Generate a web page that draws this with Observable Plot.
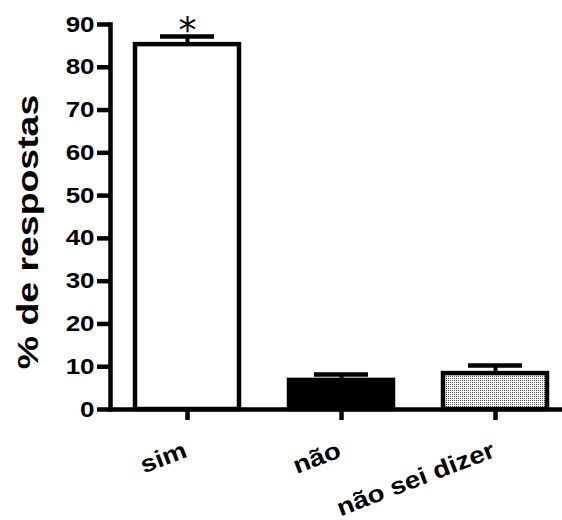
<!DOCTYPE html>
<html>
<head>
<meta charset="utf-8">
<script src="https://cdn.jsdelivr.net/npm/d3@7"></script>
<script src="https://cdn.jsdelivr.net/npm/@observablehq/plot@0.6"></script>
<style>
  html, body { margin: 0; padding: 0; background: white; }
</style>
</head>
<body>
<div id="chart"></div>
<script>
const categories = ["sim", "não", "não sei dizer"];
const values = [85.3, 6.8, 8.4];
const errors = [1.9, 1.4, 1.9];
const significance = ["*", "", ""];
const yTicks = [0, 10, 20, 30, 40, 50, 60, 70, 80, 90];
const yLabel = "% de respostas";

const table = categories.map((c, i) => ({cat: c, value: values[i], err: errors[i], sig: significance[i]}));
const fillFor = {"sim": "white", "não": "black", "não sei dizer": "url(#dots)"};

const chart = Plot.plot({
  width: 562,
  height: 520,
  marginLeft: 110,
  marginRight: 0,
  marginTop: 24,
  marginBottom: 111,
  style: {fontFamily: "'Liberation Sans', Arial, sans-serif", fontWeight: "bold", background: "white", overflow: "visible", color: "black"},
  x: {domain: categories, range: [110, 572], paddingInner: 0.325, paddingOuter: 0.1625, axis: null},
  y: {domain: [0, 90], axis: null},
  color: {type: "identity"},
  marks: [
    Plot.barY(table, {x: "cat", y: "value", fill: d => fillFor[d.cat], stroke: "black", strokeWidth: 4.5}),
    Plot.ruleX(table, {x: "cat", y1: "value", y2: d => d.value + d.err, stroke: "black", strokeWidth: 4}),
    Plot.tickY(table, {x: "cat", y: d => d.value + d.err, stroke: "black", strokeWidth: 4.5, insetLeft: 25, insetRight: 25}),
    Plot.text(table.filter(d => d.sig), {x: "cat", y: d => d.value + d.err, text: "sig", fontSize: 36, fontWeight: "normal", fontFamily: "DejaVu Sans", lineAnchor: "bottom", dy: 6}),
    Plot.ruleY([0], {stroke: "black", strokeWidth: 4.5}),
    Plot.frame({anchor: "left", stroke: "black", strokeWidth: 4.5}),
    Plot.axisY({ticks: yTicks, tickSize: 13, tickPadding: 3, strokeWidth: 4.5, fontSize: 22, tickFormat: d => String(d), label: null, className: "ytick"}),
    Plot.axisX({tickSize: 11, strokeWidth: 4.5, tickFormat: () => "", label: null}),
    Plot.text(categories, {x: d => d, frameAnchor: "bottom", rotate: -21, textAnchor: "end", lineAnchor: "bottom", dy: 47, dx: 1, fontSize: 24, className: "xlab"}),
    Plot.text([yLabel], {frameAnchor: "left", textAnchor: "middle", dx: -82, dy: 15, rotate: -90, fontSize: 29, className: "ylab"})
  ]
});

// pattern for the stippled bar
const ns = "http://www.w3.org/2000/svg";
const defs = document.createElementNS(ns, "defs");
const pat = document.createElementNS(ns, "pattern");
pat.setAttribute("id", "dots");
pat.setAttribute("width", "2");
pat.setAttribute("height", "2");
pat.setAttribute("patternUnits", "userSpaceOnUse");
const bg = document.createElementNS(ns, "rect");
bg.setAttribute("width", "2"); bg.setAttribute("height", "2"); bg.setAttribute("fill", "white");
const dot = document.createElementNS(ns, "rect");
dot.setAttribute("width", "1"); dot.setAttribute("height", "1"); dot.setAttribute("fill", "#555");
pat.appendChild(bg); pat.appendChild(dot); defs.appendChild(pat);
chart.insertBefore(defs, chart.firstChild);

// widen glyphs along the text direction (the reference uses a wide bold face)
function widen(selector, k) {
  chart.querySelectorAll(selector + " text").forEach(t => {
    const tr = t.getAttribute("transform");
    if (tr) t.setAttribute("transform", tr + ` scale(${k},1)`);
  });
}
widen(".ytick", 1.18);
widen(".xlab", 1.15);
widen(".ylab", 1.29);

document.getElementById("chart").appendChild(chart);
</script>
</body>
</html>
